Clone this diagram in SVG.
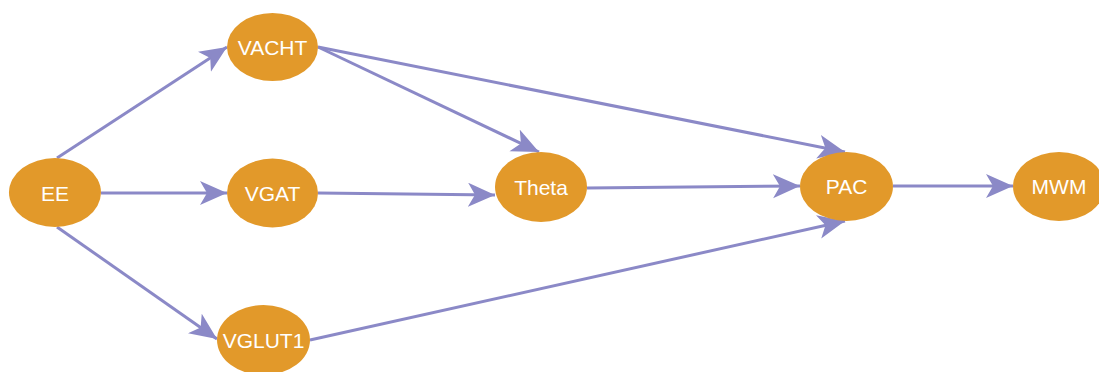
<svg xmlns="http://www.w3.org/2000/svg" width="1099" height="372" viewBox="0 0 1099 372">
<style>
.node ellipse{fill:#e2992a;}
.node text{fill:#ffffff;font-family:"Liberation Sans",Arial,sans-serif;font-size:21px;text-anchor:middle;dominant-baseline:central;}
.edge{stroke:#8b89c7;stroke-width:3;fill:none;marker-end:url(#arr);}
</style>
<defs>
<marker id="arr" markerUnits="userSpaceOnUse" markerWidth="30" markerHeight="26" refX="27" refY="12" orient="auto">
<path d="M0,0 L27,12 L0,24 L7,12 z" fill="#8b89c7"/>
</marker>
</defs>
<rect width="1099" height="372" fill="#ffffff"/>
<g id="connectors">
<path class="edge" d="M57,158 L227,47"/>
<path class="edge" d="M101,193 L227,193"/>
<path class="edge" d="M57,227 L217,339"/>
<path class="edge" d="M318,47 L539,152"/>
<path class="edge" d="M318,47 L845,152"/>
<path class="edge" d="M318,193 L495,195"/>
<path class="edge" d="M587,188 L800,186"/>
<path class="edge" d="M310,340 L845,221"/>
<path class="edge" d="M893,186 L1013,186"/>
</g>
<g id="EE" class="node"><ellipse cx="55" cy="192.5" rx="46" ry="34.5"/><text x="55" y="193">EE</text></g>
<g id="VACHT" class="node"><ellipse cx="272.5" cy="47" rx="45.5" ry="34"/><text x="272.5" y="47">VACHT</text></g>
<g id="VGAT" class="node"><ellipse cx="272.5" cy="193" rx="45.5" ry="34.5"/><text x="272.5" y="193">VGAT</text></g>
<g id="VGLUT1" class="node"><ellipse cx="263.5" cy="340" rx="46.5" ry="35"/><text x="263.5" y="340">VGLUT1</text></g>
<g id="Theta" class="node"><ellipse cx="541" cy="187" rx="46" ry="35"/><text x="541" y="187">Theta</text></g>
<g id="PAC" class="node"><ellipse cx="846.5" cy="186.5" rx="46.5" ry="34.5"/><text x="846.5" y="186.5">PAC</text></g>
<g id="MWM" class="node"><ellipse cx="1059" cy="186.5" rx="46" ry="34.5"/><text x="1059" y="186.5">MWM</text></g>
</svg>
